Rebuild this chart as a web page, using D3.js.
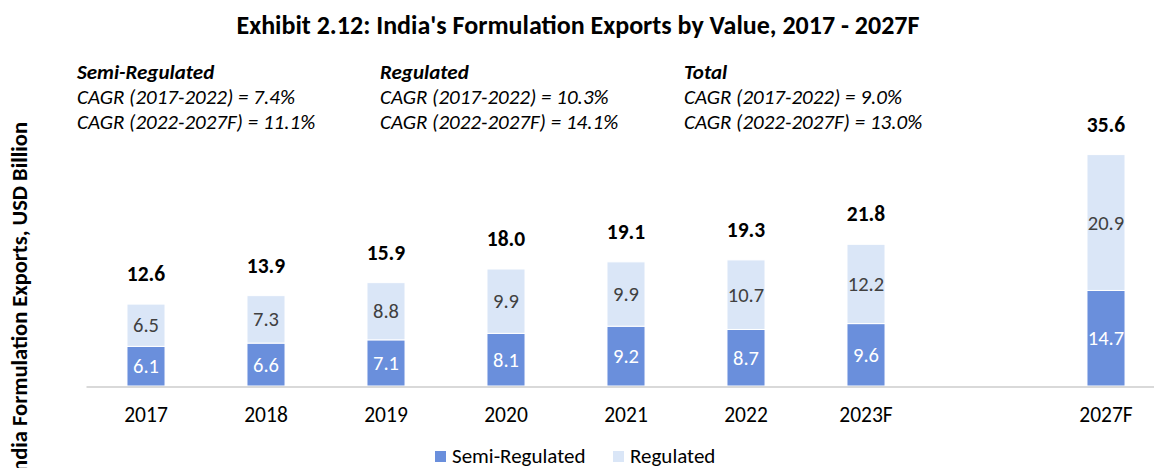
<!DOCTYPE html>
<html>
<head>
<meta charset="utf-8">
<script src="https://cdn.jsdelivr.net/npm/d3@7"></script>
<style>
  body { margin: 0; background: #fff; }
  svg { display: block; font-family: Carlito, Calibri, Lato, sans-serif; }
</style>
</head>
<body>
<div id="chart"></div>
<script>
// values (USD billion)
const years = ["2017", "2018", "2019", "2020", "2021", "2022", "2023F", "2027F"];
const semiRegulated = [6.1, 6.6, 7.1, 8.1, 9.2, 8.7, 9.6, 14.7];
const regulated = [6.5, 7.3, 8.8, 9.9, 9.9, 10.7, 12.2, 20.9];
const totals = [12.6, 13.9, 15.9, 18.0, 19.1, 19.3, 21.8, 35.6];
const seriesNames = ["Semi-Regulated", "Regulated"];
const cagrBlocks = [
  {head: "Semi-Regulated", lines: ["CAGR (2017-2022) = 7.4%", "CAGR (2022-2027F) = 11.1%"]},
  {head: "Regulated", lines: ["CAGR (2017-2022) = 10.3%", "CAGR (2022-2027F) = 14.1%"]},
  {head: "Total", lines: ["CAGR (2017-2022) = 9.0%", "CAGR (2022-2027F) = 13.0%"]}
];

const width = 1154;
const height = 468;
const colors = ["#6a8fdc", "#dae6f7"];

// one empty slot between 2023F and 2027F
const slots = years.slice(0, 7).concat([" "], years.slice(7));

const rows = years.map((yr, i) => ({year: yr, "Semi-Regulated": semiRegulated[i], "Regulated": regulated[i], total: totals[i]}));
const stacked = d3.stack().keys(seriesNames)(rows);

const x = d3.scaleBand(slots, [86, 1166]).paddingInner(0.683).paddingOuter(0.3415);
const y = d3.scaleLinear([0, 40], [386, 126]);

const svg = d3.select("#chart").append("svg")
    .attr("width", width)
    .attr("height", height);

svg.append("text")
    .attr("x", 578)
    .attr("y", 34)
    .attr("text-anchor", "middle")
    .attr("font-weight", "bold")
    .attr("font-size", 26)
    .attr("fill", "#000")
    .text("Exhibit 2.12: India's Formulation Exports by Value, 2017 - 2027F");

// CAGR notes
const blockX = [77, 380, 684];
cagrBlocks.forEach((b, i) => {
  const t = svg.append("text").attr("font-style", "italic").attr("font-size", 21).attr("fill", "#000");
  t.append("tspan").attr("x", blockX[i]).attr("y", 79).attr("font-weight", "bold").text(b.head);
  b.lines.forEach((l, j) => t.append("tspan").attr("x", blockX[i]).attr("y", 104 + j * 24.5).text(l));
});

// y axis title (cut off at the bottom as in the exhibit)
svg.append("text")
    .attr("transform", "translate(27,122) rotate(-90)")
    .attr("text-anchor", "end")
    .attr("font-weight", "bold")
    .attr("font-size", 22.5)
    .attr("fill", "#000")
    .text("India Formulation Exports, USD Billion");

const layer = svg.selectAll("g.layer")
  .data(stacked)
  .join("g")
    .attr("class", "layer")
    .attr("fill", (d, i) => colors[i]);

layer.selectAll("rect")
  .data(d => d)
  .join("rect")
    .attr("x", d => x(d.data.year))
    .attr("width", x.bandwidth())
    .attr("y", d => y(d[1]))
    .attr("height", d => y(d[0]) - y(d[1]))
    .attr("stroke", "#fff")
    .attr("stroke-width", 1);

layer.selectAll("text")
  .data((d, i) => d.map(v => ({v, i, key: d.key})))
  .join("text")
    .attr("x", d => x(d.v.data.year) + x.bandwidth() / 2)
    .attr("y", d => (y(d.v[0]) + y(d.v[1])) / 2 + 7)
    .attr("text-anchor", "middle")
    .attr("font-size", 20.5)
    .attr("fill", d => d.i === 0 ? "#fff" : "#404040")
    .text(d => d.v.data[d.key].toFixed(1));

svg.append("g").selectAll("text")
  .data(rows)
  .join("text")
    .attr("x", d => x(d.year) + x.bandwidth() / 2)
    .attr("y", d => y(d["Semi-Regulated"] + d["Regulated"]) - 23)
    .attr("text-anchor", "middle")
    .attr("font-weight", "bold")
    .attr("font-size", 21.5)
    .attr("fill", "#000")
    .text(d => d.total.toFixed(1));

const axis = svg.append("g")
    .attr("transform", "translate(0,386.5)")
    .call(d3.axisBottom(x).tickValues(years).tickSize(0));
axis.select(".domain").attr("stroke", "#d9d9d9").attr("stroke-width", 2);
axis.selectAll(".tick text")
    .attr("y", 35)
    .attr("dy", 0)
    .attr("font-family", "Carlito, Calibri, Lato, sans-serif")
    .attr("font-size", 21.5)
    .attr("fill", "#000");

// legend
const legend = svg.append("g").selectAll("g")
  .data(seriesNames)
  .join("g")
    .attr("transform", (d, i) => `translate(${[435, 613][i]},451)`);
legend.append("rect")
    .attr("width", 11)
    .attr("height", 11)
    .attr("fill", (d, i) => colors[i]);
legend.append("text")
    .attr("x", 17)
    .attr("y", 12)
    .attr("font-size", 21)
    .attr("fill", "#000")
    .text(d => d);
</script>
</body>
</html>
